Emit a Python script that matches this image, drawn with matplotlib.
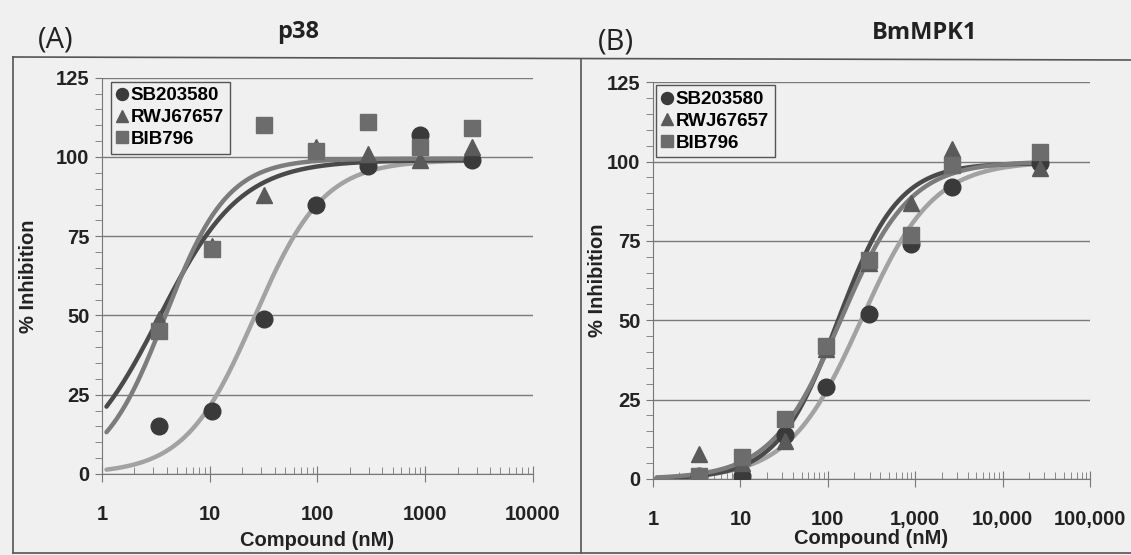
import numpy as np
import matplotlib
matplotlib.use("Agg")
import matplotlib.pyplot as plt
from matplotlib.lines import Line2D
from matplotlib.ticker import FixedLocator, LogLocator, NullFormatter, FuncFormatter

plt.rcParams['font.family'] = ['Liberation Sans', 'DejaVu Sans']

# ---- data ----
compounds = ['SB203580', 'RWJ67657', 'BIB796']

# panel A: p38
dose_a = [3.4, 10.4, 32, 97, 293, 890, 2700]
sb_a = [15, 20, 49, 85, 97, 107, 99]
rwj_a = [49, 72, 88, 103, 101, 99, 103]
bib_a = [45, 71, 110, 102, 111, 103, 109]

# panel B: BmMPK1
dose_b = [3.4, 10.4, 32, 95, 294, 890, 2650, 26500]
sb_b = [1, 1, 14, 29, 52, 74, 92, 99.5]
rwj_b = [8, 5, 12, 41, 68, 87, 104, 98]
bib_b = [1, 7, 19, 42, 69, 77, 99, 103]

# fitted dose-response curves (bottom, top, IC50, hill)
fit_a = {'SB203580': (0, 99, 26, 1.35),
         'RWJ67657': (0, 99, 3.4, 1.15),
         'BIB796': (0, 99.5, 3.85, 1.5)}
fit_b = {'SB203580': (0, 100, 240, 1.05),
         'RWJ67657': (0, 99.5, 130, 1.25),
         'BIB796': (0, 100, 140, 1.1)}

markers = {'SB203580': 'o', 'RWJ67657': '^', 'BIB796': 's'}
mcolors = {'SB203580': '#3a3a3a', 'RWJ67657': '#5a5a5a', 'BIB796': '#6c6c6c'}
lcolors = {'SB203580': '#a2a2a2', 'RWJ67657': '#4a4a4a', 'BIB796': '#7c7c7c'}
msizes = {'SB203580': 12, 'RWJ67657': 12, 'BIB796': 12}

bg = '#f0f0f0'


def hill(x, bottom, top, ic50, h):
    return bottom + (top - bottom) / (1 + (ic50 / x) ** h)


fig = plt.figure(figsize=(11.31, 5.55), dpi=100, facecolor=bg)


def panel(rect, dose, series, fits, xmax, comma, ylab_x, xlab_y):
    ax = fig.add_axes(rect, facecolor=bg)
    ax.set_xscale('log')
    ax.set_xlim(1, xmax)
    ax.set_ylim(0, 125)
    xs = np.logspace(np.log10(1.1), np.log10(dose[-1]), 200)
    for name in compounds:
        ax.plot(xs, hill(xs, *fits[name]), color=lcolors[name], lw=3.2,
                solid_capstyle='round', zorder=3)
    for name in compounds:
        ax.plot(dose, series[name], ls='none', marker=markers[name],
                ms=msizes[name], color=mcolors[name], label=name, zorder=4)
    ax.set_yticks([0, 25, 50, 75, 100, 125])
    ax.yaxis.set_minor_locator(FixedLocator(np.arange(0, 126, 5)))
    ax.grid(axis='y', which='major', color='#7a7a7a', lw=1)
    for s in ['top', 'right']:
        ax.spines[s].set_visible(False)
    for s in ['left', 'bottom']:
        ax.spines[s].set_color('#777777')
    ax.tick_params(axis='y', which='both', direction='out', length=5,
                   color='#777777', labelsize=14.5, pad=4)
    ax.tick_params(axis='x', which='major', direction='inout', length=12,
                   color='#777777', labelsize=14.5, pad=16)
    ax.tick_params(axis='x', which='minor', direction='in', length=5,
                   color='#777777')
    ax.xaxis.set_minor_locator(LogLocator(base=10, subs=np.arange(2, 10)))
    ax.xaxis.set_minor_formatter(NullFormatter())
    if comma:
        ax.xaxis.set_major_formatter(FuncFormatter(lambda v, p: f"{int(round(v)):,}"))
    else:
        ax.xaxis.set_major_formatter(FuncFormatter(lambda v, p: f"{int(round(v))}"))
    for lab in ax.get_xticklabels() + ax.get_yticklabels():
        lab.set_fontweight('bold')
        lab.set_color('#222222')
    ax.set_xlabel('Compound (nM)', fontsize=14.5, fontweight='bold',
                  color='#222222')
    ax.xaxis.set_label_coords(0.5, xlab_y)
    ax.set_ylabel('% Inhibition', fontsize=14.5, fontweight='bold',
                  color='#222222')
    ax.yaxis.set_label_coords(ylab_x, 0.5)
    return ax


ax_a = panel([0.0902, 0.146, 0.381, 0.714], dose_a,
             {'SB203580': sb_a, 'RWJ67657': rwj_a, 'BIB796': bib_a},
             fit_a, 10000, False, -0.148, -0.143)
ax_b = panel([0.5774, 0.137, 0.3864, 0.715], dose_b,
             {'SB203580': sb_b, 'RWJ67657': rwj_b, 'BIB796': bib_b},
             fit_b, 100000, True, -0.105, -0.125)

for ax, anchor in [(ax_a, (0.021, 0.99)), (ax_b, (0.007, 0.992))]:
    leg = ax.legend(loc='upper left', bbox_to_anchor=anchor, borderaxespad=0,
                    fancybox=False, edgecolor='#555555', facecolor=bg,
                    framealpha=1, handlelength=0.6, handletextpad=0.15,
                    labelspacing=0.25, borderpad=0.3, markerscale=0.72,
                    prop={'size': 13.5, 'weight': 'bold'})
    leg.get_frame().set_linewidth(1)
    leg.set_zorder(5)

# panel headings
fig.text(56 / 1131, 1 - 40 / 555, '(A)', fontsize=21, family='Open Sans',
         ha='center', va='center', color='#222222')
fig.text(298 / 1131, 1 - 32 / 555, 'p38', fontsize=17, family='Open Sans',
         fontweight='bold', ha='center', va='center', color='#222222')
fig.text(616 / 1131, 1 - 42 / 555, '(B)', fontsize=21, family='Open Sans',
         ha='center', va='center', color='#222222')
fig.text(925 / 1131, 1 - 33 / 555, 'BmMPK1', fontsize=17, family='Open Sans',
         fontweight='bold', ha='center', va='center', color='#222222')

# outer frame lines around the panels
def fig_line(x0, y0, x1, y1):
    fig.add_artist(Line2D([x0 / 1131, x1 / 1131], [1 - y0 / 555, 1 - y1 / 555],
                          color='#555555', lw=1.2, transform=fig.transFigure))

fig_line(13, 57, 1131, 60)
fig_line(13, 57, 13, 553)
fig_line(581, 59, 581, 553)
fig_line(13, 553, 1131, 553)

fig.savefig('out.png', dpi=100, facecolor=bg)
